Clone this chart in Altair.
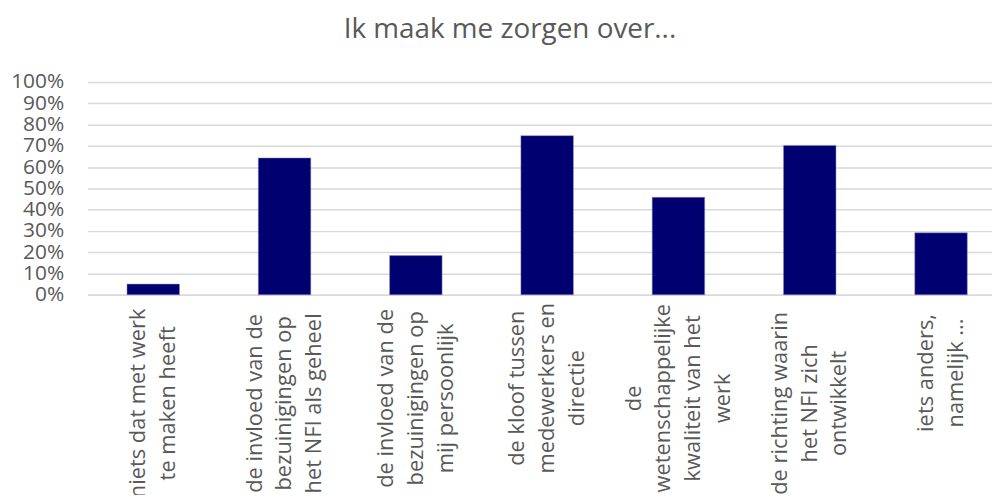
import altair as alt
import pandas as pd

categories = [
    "niets dat met werk\nte maken heeft",
    "de invloed van de\nbezuinigingen op\nhet NFI als geheel",
    "de invloed van de\nbezuinigingen op\nmij persoonlijk",
    "de kloof tussen\nmedewerkers en\ndirectie",
    "de\nwetenschappelijke\nkwaliteit van het\nwerk",
    "de richting waarin\nhet NFI zich\nontwikkelt",
    "iets anders,\nnamelijk ...",
]
values = [0.05, 0.643, 0.184, 0.748, 0.458, 0.702, 0.291]
y_ticks = [0, 0.1, 0.2, 0.3, 0.4, 0.5, 0.6, 0.7, 0.8, 0.9, 1.0]

df = pd.DataFrame({"cat": categories, "val": values})

FONT = "Open Sans"
GREY = "#595959"
LINE_H = 30

parts = "split(datum.value, '\\n')"
n_lines = f"length({parts})"
longest = "max(" + ", ".join(f"length({parts}[{i}] || '')" for i in range(4)) + ")"

chart = (
    alt.Chart(df)
    .mark_bar(color="#000070", stroke="#8f8fc0", strokeWidth=0.5)
    .encode(
        x=alt.X(
            "cat:N",
            sort=categories,
            scale=alt.Scale(paddingInner=0.6, paddingOuter=0.2444, align=0.615),
            axis=alt.Axis(
                title=None,
                labelAngle=-90,
                labelAlign="center",
                labelBaseline="middle",
                labelPadding=alt.ExprRef(f"17 + 5.1 * {longest}"),
                labelOffset=alt.ExprRef(f"-{LINE_H / 2} * ({n_lines} - 1)"),
                labelLineHeight=LINE_H,
                labelFontSize=22,
                labelFont=FONT,
                labelColor=GREY,
                labelLimit=400,
                labelExpr=parts.replace("datum.value", "datum.label"),
                ticks=False,
                domainColor="#d9d9d9",
                domainWidth=1.5,
                grid=False,
            ),
        ),
        y=alt.Y(
            "val:Q",
            scale=alt.Scale(domain=[0, 1], nice=False),
            axis=alt.Axis(
                title=None,
                values=y_ticks,
                format=".0%",
                labelFontSize=21,
                labelFont=FONT,
                labelColor=GREY,
                labelPadding=24,
                ticks=False,
                domain=False,
                gridColor="#d9d9d9",
                gridWidth=1.5,
            ),
        ),
    )
    .properties(
        width=910,
        height=214,
        padding={"left": 80, "top": 73, "right": 0, "bottom": 200},
        autosize=alt.AutoSizeParams(type="none"),
        title=alt.TitleParams(
            "Ik maak me zorgen over...",
            font=FONT,
            fontSize=28,
            fontWeight="normal",
            color=GREY,
            anchor="middle",
            dx=-30,
            offset=27,
        ),
    )
    .configure_view(stroke=None)
)

chart.save("out.html", embed_options={"renderer": "svg", "actions": False})
